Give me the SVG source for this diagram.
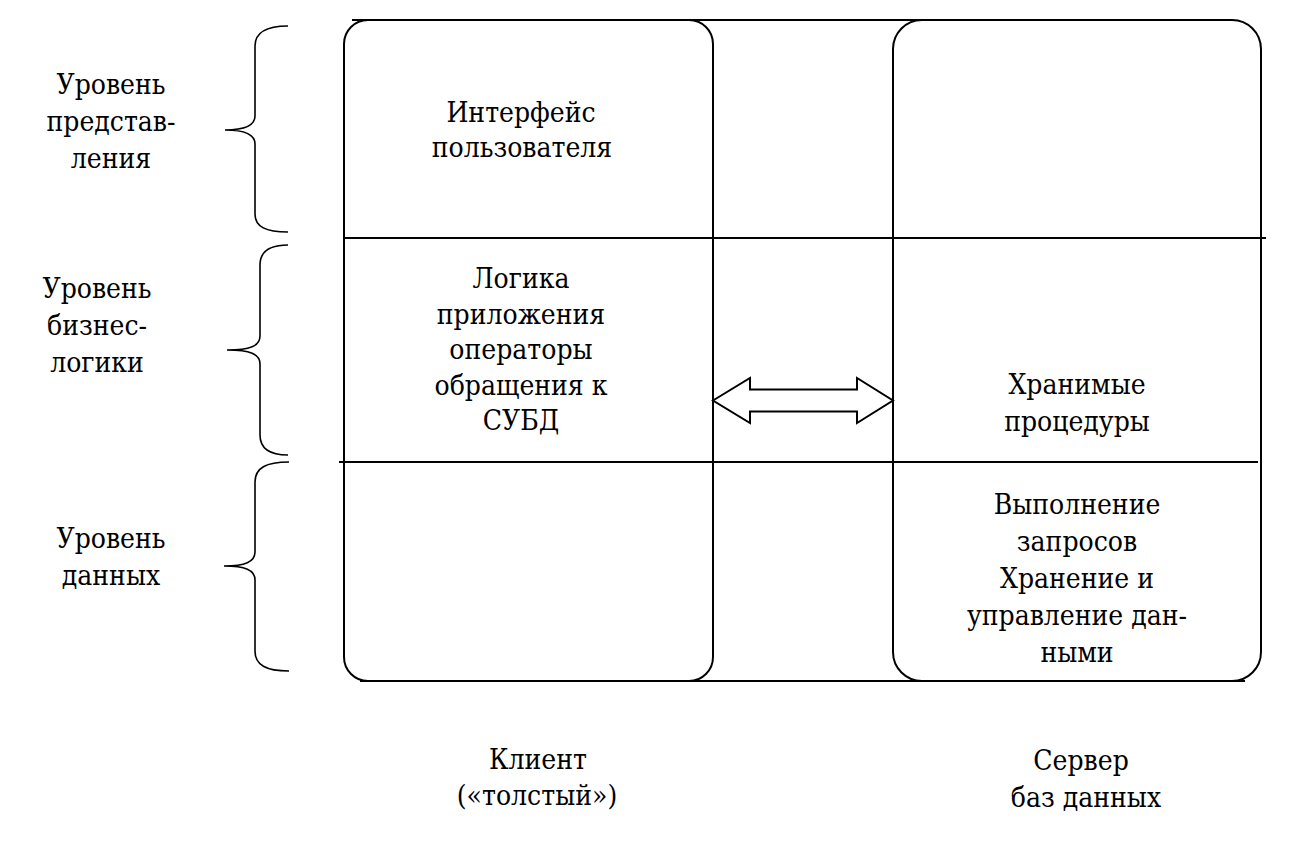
<svg xmlns="http://www.w3.org/2000/svg" width="1308" height="856" viewBox="0 0 1308 856">
<style>
.ln{stroke:#000;stroke-width:2;fill:none}
.br{stroke:#000;stroke-width:1.6;fill:none}
text{font-family:"DejaVu Serif Condensed","DejaVu Serif","Liberation Serif",serif;font-stretch:condensed;font-size:28px;fill:#000;text-anchor:middle}
</style>
<rect width="1308" height="856" fill="#fff"/>
<g id="connectors">
<line class="ln" x1="352" y1="20" x2="1160" y2="20"/>
<line class="ln" x1="344" y1="238" x2="1266" y2="238"/>
<line class="ln" x1="339" y1="462" x2="1258" y2="462"/>
<line class="ln" x1="360" y1="681" x2="1245" y2="681"/>
<path class="ln" d="M713,400.5 L750,378 L750,389.5 L857,389.5 L857,378 L893,400.5 L857,423 L857,411.5 L750,411.5 L750,423 Z" fill="#fff"/>
</g>
<g id="client">
<rect class="ln" x="344" y="20" width="369" height="661" rx="24" ry="24"/>
<text x="521" y="122">Интерфейс</text>
<text x="522" y="157">пользователя</text>
<text x="521" y="288">Логика</text>
<text x="521" y="323.5">приложения</text>
<text x="521" y="359">операторы</text>
<text x="521" y="394.5">обращения к</text>
<text x="521" y="430">СУБД</text>
</g>
<g id="server">
<rect class="ln" x="893" y="20" width="368" height="661" rx="29" ry="29"/>
<text x="1077" y="394">Хранимые</text>
<text x="1077" y="431">процедуры</text>
<text x="1077" y="514">Выполнение</text>
<text x="1077" y="551">запросов</text>
<text x="1077" y="588">Хранение и</text>
<text x="1077" y="625">управление дан-</text>
<text x="1077" y="662">ными</text>
</g>
<g id="level-presentation">
<path class="br" d="M288,26 C266,26 255,32 255,46 L255,116 C255,126 245,130 225,130 C245,130 255,134 255,144 L255,214 C255,227 266,232 288,232"/>
<text x="111" y="94">Уровень</text>
<text x="111" y="131">представ-</text>
<text x="111" y="168">ления</text>
</g>
<g id="level-business">
<path class="br" d="M288,245 C270,245 260,251 260,265 L260,336 C260,346 250,350 227,350 C250,350 260,354 260,364 L260,435 C260,449 270,455 288,455"/>
<text x="97" y="298">Уровень</text>
<text x="97" y="335">бизнес-</text>
<text x="97" y="372">логики</text>
</g>
<g id="level-data">
<path class="br" d="M289,462 C266,462 255,468 255,482 L255,552 C255,562 245,566 224,566 C245,566 255,570 255,580 L255,651 C255,665 266,671 289,671"/>
<text x="111" y="548">Уровень</text>
<text x="111" y="585">данных</text>
</g>
<g id="label-client">
<text x="538" y="769">Клиент</text>
<text x="537" y="805">(«толстый»)</text>
</g>
<g id="label-server">
<text x="1081" y="770">Сервер</text>
<text x="1086" y="807">баз данных</text>
</g>
</svg>
